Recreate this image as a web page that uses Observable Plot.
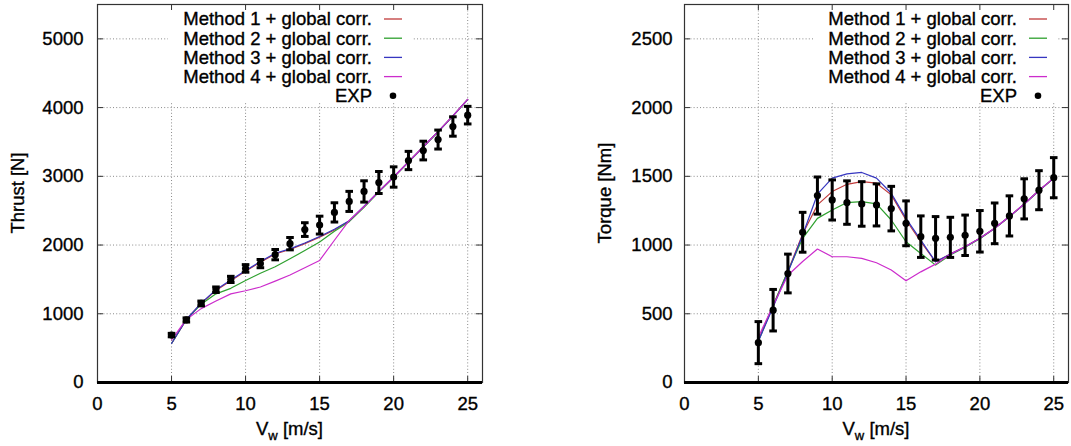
<!DOCTYPE html>
<html><head><meta charset="utf-8">
<script src="https://cdn.jsdelivr.net/npm/d3@7"></script>
<script src="https://cdn.jsdelivr.net/npm/@observablehq/plot@0.6"></script>
<style>
body{margin:0;background:#fff;}
#wrap{display:flex;width:1071px;height:446px;overflow:hidden;}
#wrap svg text{stroke:#000;stroke-width:0.35px;}
</style></head><body><div id="wrap"></div>
<script>
// ---------------- data ----------------
const windSpeed = [5,6,7,8,9,10,11,12,13,14,15,16,17,18,19,20,21,22,23,24,25];

const thrustExp    = [690, 910, 1150, 1350, 1500, 1660, 1730, 1860, 2020, 2225, 2290, 2475, 2635, 2780, 2910, 2990, 3230, 3375, 3535, 3725, 3890];
const thrustExpErr = [25, 30, 35, 40, 45, 55, 60, 75, 90, 100, 130, 140, 146, 155, 160, 148, 133, 136, 138, 141, 128];
const thrustM1 = [568, 917, 1150, 1340, 1480, 1620, 1750, 1870, 1935, 2020, 2115, 2220, 2350, 2560, 2780, 2990, 3210, 3430, 3650, 3880, 4120];
const thrustM2 = [568, 917, 1140, 1290, 1370, 1485, 1590, 1685, 1800, 1920, 2045, 2200, 2340, 2550, 2770, 2985, 3205, 3425, 3645, 3875, 4115];
const thrustM3 = [568, 917, 1155, 1350, 1490, 1630, 1760, 1880, 1945, 2030, 2125, 2230, 2355, 2565, 2780, 2990, 3210, 3430, 3650, 3880, 4120];
const thrustM4 = [620, 917, 1075, 1185, 1290, 1335, 1390, 1475, 1565, 1670, 1776, 2070, 2358, 2560, 2780, 2990, 3210, 3430, 3650, 3880, 4120];

const torqueExp    = [290, 526, 793, 1093, 1360, 1328, 1309, 1299, 1292, 1265, 1158, 1061, 1049, 1056, 1071, 1100, 1158, 1212, 1336, 1399, 1490];
const torqueExpErr = [153, 151, 141, 145, 135, 146, 158, 162, 153, 162, 163, 151, 158, 146, 147, 151, 148, 146, 146, 142, 146];
const torqueM1 = [310, 560, 810, 1080, 1292, 1389, 1442, 1462, 1450, 1365, 1182, 1024, 878, 934, 988, 1049, 1122, 1207, 1299, 1397, 1487];
const torqueM2 = [300, 560, 810, 1049, 1194, 1255, 1309, 1316, 1299, 1182, 1024, 939, 854, 927, 985, 1046, 1120, 1205, 1297, 1395, 1485];
const torqueM3 = [300, 550, 800, 1073, 1370, 1487, 1518, 1528, 1487, 1377, 1194, 1036, 878, 934, 988, 1049, 1122, 1207, 1299, 1397, 1487];
const torqueM4 = [330, 560, 780, 880, 971, 915, 915, 903, 871, 818, 740, 805, 861, 934, 988, 1049, 1122, 1207, 1299, 1397, 1487];

const xTicks = [0, 5, 10, 15, 20, 25];
const thrustTicks = [0, 1000, 2000, 3000, 4000, 5000];
const torqueTicks = [0, 500, 1000, 1500, 2000, 2500];

const methodLabels = ["Method 1 + global corr.", "Method 2 + global corr.", "Method 3 + global corr.", "Method 4 + global corr."];
const expLabel = "EXP";
const xTitle = ["V", "w", " [m/s]"];
const thrustTitle = "Thrust [N]";
const torqueTitle = "Torque [Nm]";

// ---------------- styles ----------------
const methodColors = ["#c03a3a", "#2ea02e", "#3636c0", "#cc2ccc"];
const FONT = "'Liberation Sans', Arial, Helvetica, sans-serif";
const FS = 18.5;

function makeChart(cfg) {
  const H = 446, mT = 4, mB = 64;
  const iw = cfg.width - cfg.marginLeft - cfg.marginRight;
  const ih = H - mT - mB;
  const lines = [];
  cfg.series.forEach((vals, i) => vals.forEach((v, j) => lines.push({method: methodLabels[i], x: windSpeed[j], y: v})));
  const exp = windSpeed.map((x, j) => ({x, y: cfg.exp[j], lo: cfg.exp[j] - cfg.err[j], hi: cfg.exp[j] + cfg.err[j]}));
  const gridX = xTicks.filter(d => d > 0);
  const gridY = cfg.yTicks.filter(d => d > 0);
  const capSymbol = {draw(ctx, size) { const r = Math.sqrt(size / Math.PI); ctx.moveTo(-r, 0); ctx.lineTo(r, 0); }};

  const keyMark = (index, scales, values, dim) => {
    const g = d3.create("svg:g");
    const right = dim.width - dim.marginRight;
    const lineEnd = right - cfg.keyInset;
    const lineStart = lineEnd - 18;
    const textEnd = lineEnd - 30;
    const top = dim.marginTop;
    g.append("rect").attr("x", textEnd - 204).attr("y", top + 1)
      .attr("width", (lineEnd + 11) - (textEnd - 204)).attr("height", 97).attr("fill", "white");
    const rowY = i => top + 15 + i * 19.2;
    methodLabels.forEach((lab, i) => {
      g.append("text").attr("x", textEnd).attr("y", rowY(i)).attr("dy", "0.35em")
        .attr("text-anchor", "end").attr("font-size", FS).attr("fill", "black").text(lab);
      g.append("line").attr("x1", lineStart).attr("x2", lineEnd).attr("y1", rowY(i)).attr("y2", rowY(i))
        .attr("stroke", methodColors[i]).attr("stroke-width", 1.3);
    });
    g.append("text").attr("x", textEnd).attr("y", rowY(4)).attr("dy", "0.35em")
      .attr("text-anchor", "end").attr("font-size", FS).attr("fill", "black").text(expLabel);
    g.append("circle").attr("cx", (lineStart + lineEnd) / 2).attr("cy", rowY(4)).attr("r", 3.3).attr("fill", "black");
    return g.node();
  };

  const titles = (index, scales, values, dim) => {
    const g = d3.create("svg:g").attr("fill", "black").attr("font-size", FS);
    const cx = dim.marginLeft + (dim.width - dim.marginLeft - dim.marginRight) / 2;
    const t = g.append("text").attr("x", cx).attr("y", 435).attr("text-anchor", "middle");
    t.append("tspan").text(xTitle[0]);
    t.append("tspan").attr("font-size", 13).attr("dy", 5).text(xTitle[1]);
    t.append("tspan").attr("dy", -5).text(xTitle[2]);
    const cy = dim.marginTop + (dim.height - dim.marginTop - dim.marginBottom) / 2;
    g.append("text").attr("transform", `translate(${cfg.yLabelX},${cy}) rotate(-90)`)
      .attr("text-anchor", "middle").attr("dy", "0.35em").text(cfg.yTitle);
    return g.node();
  };

  const gridStyle = {stroke: "#8a8a8a", strokeDasharray: "1,2.2", strokeWidth: 1};
  const tickStyle = {stroke: "#333", strokeWidth: 1};

  return Plot.plot({
    width: cfg.width, height: H,
    marginLeft: cfg.marginLeft, marginRight: cfg.marginRight, marginTop: mT, marginBottom: mB,
    style: {fontFamily: FONT, fontSize: FS + "px", color: "black", background: "white"},
    x: {domain: [0, 26], ticks: xTicks, tickSize: 0, tickPadding: 14, tickFormat: d3.format("d"), label: null},
    y: {domain: [0, cfg.yMax], ticks: cfg.yTicks, tickSize: 0, tickPadding: cfg.yPad, tickFormat: d3.format("d"), label: null},
    color: {domain: methodLabels, range: methodColors},
    marks: [
      Plot.ruleX(gridX, {x: d => d, ...gridStyle}),
      Plot.ruleY(gridY, {y: d => d, ...gridStyle}),
      keyMark,
      Plot.line(lines, {x: "x", y: "y", z: "method", stroke: "method", strokeWidth: 1.2}),
      Plot.ruleX(exp, {x: "x", y1: "lo", y2: "hi", stroke: "black", strokeWidth: 3}),
      Plot.dot(exp, {x: "x", y: "lo", symbol: capSymbol, r: 3.8, fill: "none", stroke: "black", strokeWidth: 3}),
      Plot.dot(exp, {x: "x", y: "hi", symbol: capSymbol, r: 3.8, fill: "none", stroke: "black", strokeWidth: 3}),
      Plot.dot(exp, {x: "x", y: "y", r: 3.6, fill: "black", stroke: "none"}),
      Plot.tickX(gridX, {x: d => d, insetTop: ih - 6, ...tickStyle}),
      Plot.tickX(gridX, {x: d => d, insetBottom: ih - 6, ...tickStyle}),
      Plot.tickY(gridY, {y: d => d, insetRight: iw - 6, ...tickStyle}),
      Plot.tickY(gridY, {y: d => d, insetLeft: iw - 6, ...tickStyle}),
      Plot.frame({stroke: "#333", strokeWidth: 1.2}),
      Plot.ruleY([0], {y: d => d, stroke: "black", strokeWidth: 3}),
      titles
    ]
  });
}

const wrap = document.getElementById("wrap");
wrap.appendChild(makeChart({
  width: 535, marginLeft: 97, marginRight: 53, yPad: 14,
  series: [thrustM1, thrustM2, thrustM3, thrustM4],
  exp: thrustExp, err: thrustExpErr,
  yMax: 5500, yTicks: thrustTicks, yTitle: thrustTitle, yLabelX: 18, keyInset: 80
}));
wrap.appendChild(makeChart({
  width: 536, marginLeft: 149, marginRight: 3, yPad: 12,
  series: [torqueM1, torqueM2, torqueM3, torqueM4],
  exp: torqueExp, err: torqueExpErr,
  yMax: 2750, yTicks: torqueTicks, yTitle: torqueTitle, yLabelX: 70, keyInset: 21
}));
</script>
</body></html>
